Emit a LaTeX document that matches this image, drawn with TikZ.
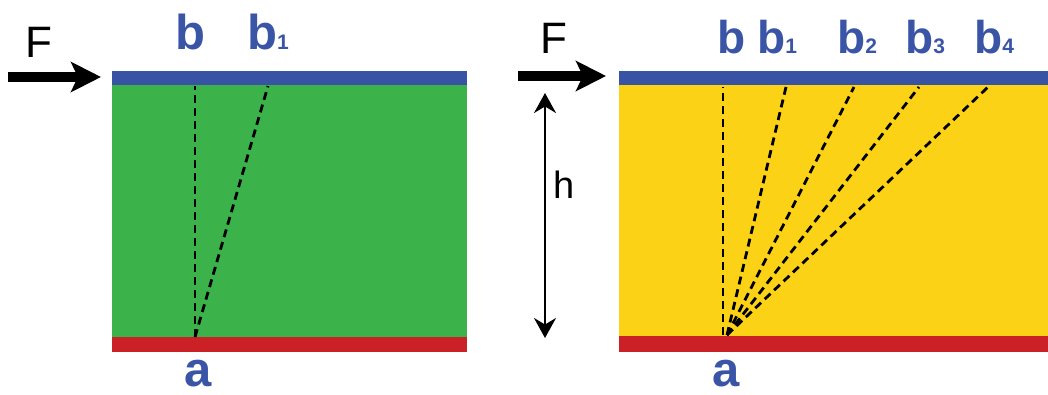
\documentclass[tikz,border=0pt]{standalone}
\usepackage{fontspec}
\setmainfont{Liberation Sans}
\usetikzlibrary{arrows.meta, positioning}
\definecolor{topblue}{RGB}{56, 82, 164}
\definecolor{labelblue}{RGB}{58, 85, 165}
\definecolor{layergreen}{RGB}{59, 178, 74}
\definecolor{layeryellow}{RGB}{252, 210, 23}
\definecolor{basered}{RGB}{204, 32, 39}
\newcommand{\sub}[1]{{\fontsize{21}{21}\selectfont #1}}

\begin{document}
\begin{tikzpicture}[
    x=1pt, y=-1pt,
    pointlabel/.style={font=\fontsize{49}{49}\selectfont\bfseries, text=labelblue, inner sep=0pt, anchor=base west},
    sublabel/.style={font=\fontsize{46}{46}\selectfont\bfseries, text=labelblue, inner sep=0pt, anchor=base west},
    forcelabel/.style={font=\fontsize{44}{44}\selectfont, inner sep=0pt, anchor=base west},
    shearline/.style={dash pattern=on 8pt off 5pt, line width=2.8pt},
    forcearrow/.style={-{Stealth[length=30pt, width=30pt, inset=7pt]}, line width=10pt},
    dimarrow/.style={{Stealth[length=20pt, width=22pt]}-{Stealth[length=20pt, width=22pt]}, line width=2pt},
]
    \useasboundingbox (0,0) rectangle (1048,394);

    % Left block
    \fill[layergreen] (112,85) rectangle (467,337);
    \fill[topblue] (112,71) rectangle (467,85);
    \fill[basered] (112,337) rectangle (467,352);

    % Right block
    \fill[layeryellow] (619,85) rectangle (1048,336);
    \fill[topblue] (619,71) rectangle (1048,85);
    \fill[basered] (619,336) rectangle (1048,352);

    % Shear lines, left
    \coordinate (la) at (195,337);
    \coordinate (lb) at (195,86);
    \coordinate (lb1) at (268,86);
    \draw[shearline] (la) -- (lb);
    \draw[shearline] (la) -- (lb1);

    % Shear lines, right
    \coordinate (ra) at (727,335);
    \coordinate (ra0) at (723,335);
    \coordinate (rb) at (723,87);
    \coordinate (rb1) at (786,87);
    \coordinate (rb2) at (854,87);
    \coordinate (rb3) at (919,87);
    \coordinate (rb4) at (988,87);
    \draw[shearline] (ra0) -- (rb);
    \foreach \p in {rb1, rb2, rb3, rb4}
        \draw[shearline] (ra) -- (\p);

    % Labels, left
    \node[pointlabel] (lblb) at (175,49) {b};
    \node[pointlabel] (lblb1) at (247,49) {b\sub{1}};
    \node[pointlabel] (lbla) at (184,386) {a};
    \node[forcelabel] (lblf) at (25,57) {F};

    % Labels, right
    \node[sublabel] (rlblb) at (717,53) {b};
    \node[sublabel] (rlblb1) at (757,53) {b\sub{1}};
    \node[sublabel] (rlblb2) at (837,53) {b\sub{2}};
    \node[sublabel] (rlblb3) at (905,53) {b\sub{3}};
    \node[sublabel] (rlblb4) at (974,53) {b\sub{4}};
    \node[pointlabel] (rlbla) at (712,386) {a};
    \node[forcelabel] (rlblf) at (540,53) {F};

    % Forces
    \coordinate (lfs) at (8,77);
    \coordinate (lft) at (101,77);
    \draw[forcearrow] (lfs) -- (lft);
    \coordinate (rfs) at (518,76);
    \coordinate (rft) at (606,76);
    \draw[forcearrow] (rfs) -- (rft);

    % Height
    \coordinate (htop) at (545,93);
    \coordinate (hbot) at (545,338);
    \draw[dimarrow] (htop) -- (hbot);
    \node[font=\fontsize{38}{38}\selectfont, inner sep=0pt, anchor=base west] (hlbl) at (553,198) {h};
\end{tikzpicture}
\end{document}
